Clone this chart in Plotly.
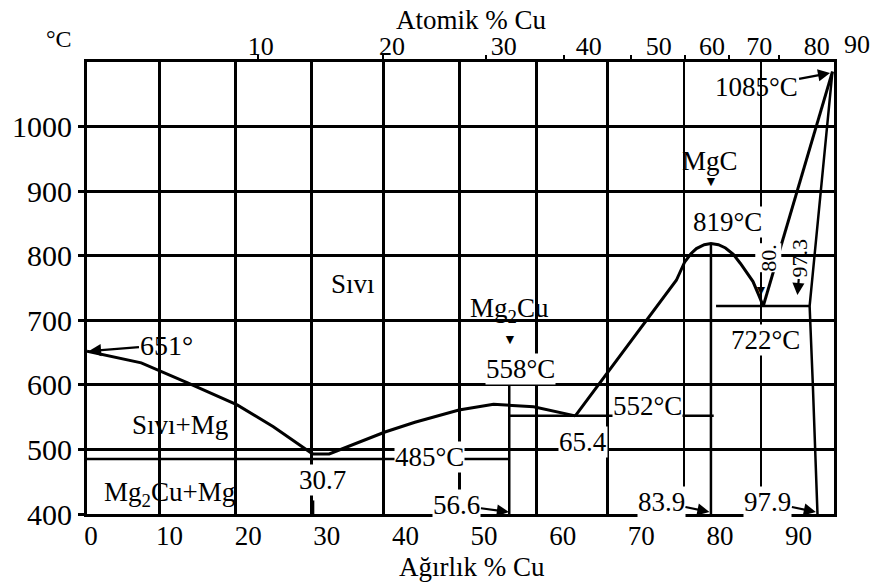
import plotly.graph_objects as go

# ---------------- data (in weight-% Cu / degC) ----------------
temp_ticks = [400, 500, 600, 700, 800, 900, 1000]
wt_ticks = [0, 10, 20, 30, 40, 50, 60, 70, 80, 90]

atomic_labels = ["10", "20", "30", "40", "50", "60", "70", "80", "90"]
atomic_label_pos = [21.6, 38.3, 52.5, 63.3, 72.2, 79.0, 85.0, 92.3, 97.4]
atomic_tick_pos = [21.3, 37.2, 50.3, 60.1, 68.7, 75.5, 81.1, 87.5]

grid_x_major = [8.66, 18.33, 28.0, 37.16, 46.83, 56.62, 65.66]
grid_x_minor = [75.46, 85.25]

liq_mg_x = [-0.5, 6.4, 12.3, 18.6, 23.2, 28.2]
liq_mg_t = [652, 634, 603, 569, 535, 493]

liq_mg2cu_x = [28.2, 30.3, 37.4, 41.2, 46.8, 51.2, 56.3, 60.0, 61.6]
liq_mg2cu_t = [493, 493, 527, 542, 561, 570, 566, 556, 552]

liq_mgcu2_x = [61.6, 74.45, 75.5, 76.3, 77.0, 78.0, 78.85, 79.8, 80.7, 81.7, 82.6, 84.2, 85.0, 85.5]
liq_mgcu2_t = [552, 762, 790, 803, 811, 817, 819, 817, 812, 802, 788, 760, 737, 722]

liq_cu_x = [85.5, 94.3]
liq_cu_t = [722, 1085]

sol_cu_x = [94.3, 91.4, 91.8, 92.1, 92.4]
sol_cu_t = [1085, 722, 603, 500, 400]

eut_t = [485, 552, 722]
eut_x_start = [-0.5, 53.3, 79.5]
eut_x_end = [53.2, 79.2, 91.4]

compound_x = [53.2, 78.85]
compound_t_top = [600, 819]

mark_30_7_x = 28.25

X_RANGE = [-0.5, 94.5]
Y_RANGE = [400, 1100]
FONT = "Liberation Serif, Times New Roman, DejaVu Serif, serif"

fig = go.Figure()

def line(x, y, w=3.0):
    fig.add_trace(go.Scatter(x=x, y=y, mode="lines", line=dict(color="black", width=w),
                             showlegend=False, hoverinfo="skip"))

line(liq_mg_x, liq_mg_t)
line(liq_mg2cu_x, liq_mg2cu_t)
line(liq_mgcu2_x, liq_mgcu2_t)
line(liq_cu_x, liq_cu_t)
line(sol_cu_x, sol_cu_t, 2.5)

ex, ey = [], []
for t, a, b in zip(eut_t, eut_x_start, eut_x_end):
    ex += [a, b, None]
    ey += [t, t, None]
line(ex, ey, 2.5)

cx, cy = [], []
for xv, tt in zip(compound_x, compound_t_top):
    cx += [xv, xv, None]
    cy += [tt, Y_RANGE[0], None]
cx += [mark_30_7_x, mark_30_7_x, None]
cy += [Y_RANGE[0], 421, None]
line(cx, cy, 2.5)

# dummy traces so the auxiliary axes are realised
for xa in ["x2", "x3", "x4", "x5"]:
    fig.add_trace(go.Scatter(x=[None], y=[None], xaxis=xa, yaxis="y",
                             showlegend=False, hoverinfo="skip"))

ann = []
def txt(x, y, s, size=27, bg=None, **kw):
    d = dict(x=x, y=y, xref="x", yref="y", text=s, showarrow=False,
             xanchor="center", yanchor="middle",
             font=dict(family=FONT, size=size, color="black"))
    if bg:
        d["bgcolor"] = bg
        d["borderpad"] = 0
    d.update(kw)
    ann.append(d)

def arrow(tipx, tipy, ax, ay, s, bg=None, size=27):
    d = dict(x=tipx, y=tipy, xref="x", yref="y", text=s, showarrow=True,
             ax=ax, ay=ay, arrowhead=2, arrowsize=1.1, arrowwidth=2.2, arrowcolor="black",
             font=dict(family=FONT, size=size, color="black"), standoff=0)
    if bg:
        d["bgcolor"] = bg
        d["borderpad"] = 0
    ann.append(d)

W = "white"
arrow(-0.25, 652.4, 78, -6, "651°", size=28)
txt(33.3, 756.2, "Sıvı")
txt(53.28, 716, "Mg<sub>2</sub>Cu")
txt(53.28, 669.5, "▼", size=14)
txt(54.67, 624.6, "558°C", bg=W)
txt(70.75, 567.3, "552°C", bg=W)
txt(62.58, 511.5, "65.4", bg=W)
txt(43.1, 488.3, "485°C", bg=W)
txt(29.4, 452.7, "30.7", bg=W)
txt(11.31, 537.8, "Sıvı+Mg")
txt(9.93, 431, "Mg<sub>2</sub>Cu+Mg")
arrow(53.16, 403.1, -52, -7, "56.6", bg=W)
arrow(78.66, 403.1, -48, -10, "83.9", bg=W)
arrow(92.2, 403.1, -48, -10, "97.9", bg=W)
txt(78.79, 946.7, "MgC")
txt(78.92, 915.7, "▼", size=14)
txt(80.93, 852.2, "819°C", bg=W)
arrow(94.0, 1083, -74, 14, "1085°C")
txt(86.2, 796.5, "80.", size=22, bg=W, textangle=-90)
txt(85.2, 745.4, "▼", size=14)
arrow(89.85, 739.2, 3, -37, "97.3", size=22)
ann[-1]["textangle"] = -90
txt(85.83, 669.5, "722°C", bg=W)

# labels of the atomic axis that lie beyond the frame
span = X_RANGE[1] - X_RANGE[0]
for lbl, pos in zip(atomic_labels, atomic_label_pos):
    if pos > X_RANGE[1]:
        ann.append(dict(x=(pos - X_RANGE[0]) / span, y=1.0, xref="paper", yref="paper",
                        xanchor="center", yanchor="bottom", yshift=1, text=lbl, showarrow=False,
                        font=dict(family=FONT, size=26, color="black")))

# titles
def ptxt(x, y, s, size):
    ann.append(dict(x=x, y=y, xref="paper", yref="paper", text=s, showarrow=False,
                    xanchor="center", yanchor="middle",
                    font=dict(family=FONT, size=size, color="black")))

ptxt(0.5146, 1.093, "Atomik % Cu", 27)
ptxt(0.516, -0.117, "Ağırlık % Cu", 27)
ptxt(-0.037, 1.051, "°C", 24)

common_overlay = dict(overlaying="x", anchor="y", range=X_RANGE, zeroline=False, showline=False)

fig.update_layout(
    width=878, height=588,
    margin=dict(l=78, r=44, t=62, b=74),
    paper_bgcolor="white", plot_bgcolor="rgba(0,0,0,0)",
    font=dict(family=FONT, color="black"),
    annotations=ann,
    xaxis=dict(range=X_RANGE, tickvals=wt_ticks, ticks="", ticklabelstandoff=-4,
               tickfont=dict(family=FONT, size=27), showline=True, linewidth=3, linecolor="black",
               mirror=True, showgrid=False, zeroline=False),
    xaxis2=dict(side="top", tickvals=atomic_label_pos, ticktext=atomic_labels, ticks="",
                tickfont=dict(family=FONT, size=26), showgrid=False, ticklabelstandoff=1,
                **common_overlay),
    xaxis3=dict(tickvals=grid_x_major, showticklabels=False, ticks="", showgrid=True,
                gridcolor="black", gridwidth=2.5, **common_overlay),
    xaxis4=dict(tickvals=grid_x_minor, showticklabels=False, ticks="", showgrid=True,
                gridcolor="black", gridwidth=1.5, **common_overlay),
    xaxis5=dict(side="top", tickvals=atomic_tick_pos, showticklabels=False, ticks="outside",
                ticklen=6, tickwidth=2, tickcolor="black", showgrid=False, **common_overlay),
    yaxis=dict(range=Y_RANGE, tickvals=temp_ticks, ticks="outside", ticklen=6, tickwidth=2.5,
               tickcolor="black", tickfont=dict(family=FONT, size=30), showgrid=True,
               gridcolor="black", gridwidth=3, showline=True, linewidth=3, linecolor="black",
               mirror=True, zeroline=False),
)

fig.write_html("out.html")
